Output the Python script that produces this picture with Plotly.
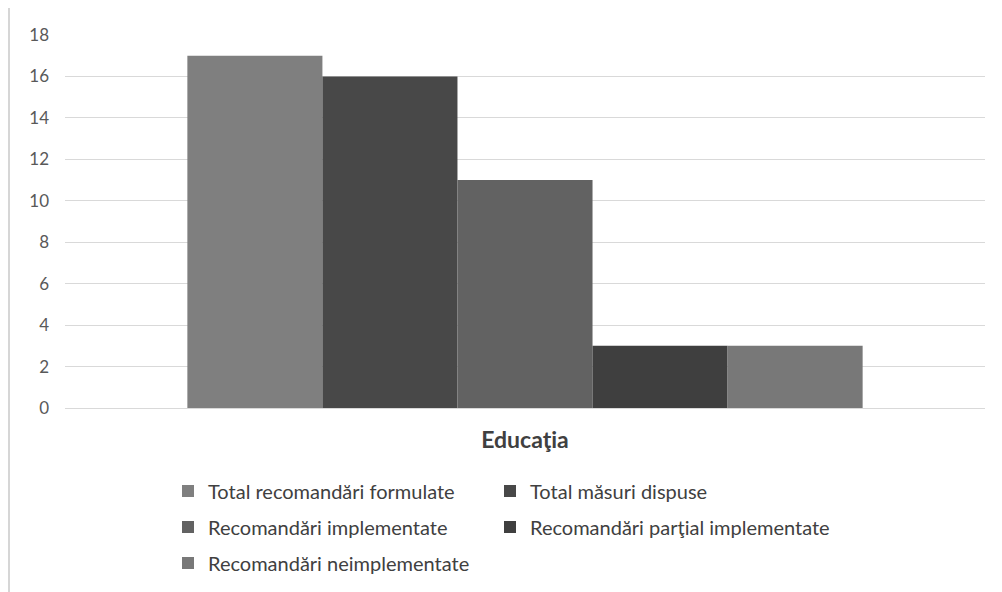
import plotly.graph_objects as go

categories = ["Educaţia"]
series_names = [
    "Total recomandări formulate",
    "Total măsuri dispuse",
    "Recomandări implementate",
    "Recomandări parţial implementate",
    "Recomandări neimplementate",
]
series_values = [17, 16, 11, 3, 3]
series_colors = ["#7f7f7f", "#484848", "#626262", "#3f3f3f", "#787878"]
y_ticks = [0, 2, 4, 6, 8, 10, 12, 14, 16, 18]

# page offset (browser body margin)
OFF = 8
W, H = 1002, 592
# plot area in page pixels: x 65..985, y 35..408
PL, PR, PT, PB = 65, 985, 35, 408
ML = PL - OFF
MT = PT - OFF
MR = W - (PR - OFF)
MB = H - (PB - OFF)
PW, PH = PR - PL, PB - PT

def px_x(p):
    return (p - PL) / PW

def px_y(p):
    return (PB - p) / PH

# legend slots (page px): item start x, row centre y
legend_ids = ["legend", "legend2", "legend3", "legend4", "legend5"]
legend_x = [168, 490, 168, 490, 168]
legend_y = [491, 491, 527, 527, 563]

fig = go.Figure()
for name, val, col, lg in zip(series_names, series_values, series_colors, legend_ids):
    fig.add_trace(go.Bar(
        x=categories, y=[val], name=name,
        marker=dict(color=col, line=dict(width=0)),
        legend=lg,
    ))

legend_layout = {}
for lg, lx, ly in zip(legend_ids, legend_x, legend_y):
    legend_layout[lg] = dict(
        orientation="h", x=px_x(lx), xanchor="left", y=px_y(ly), yanchor="middle",
        font=dict(family="Lato", size=20, color="#404040"),
        bgcolor="rgba(0,0,0,0)", borderwidth=0,
    )

fig.update_layout(
    width=W, height=H,
    margin=dict(l=ML, r=MR, t=MT, b=MB, autoexpand=False),
    paper_bgcolor="white", plot_bgcolor="white",
    barmode="group", bargap=0.266, bargroupgap=0,
    showlegend=True,
    xaxis=dict(
        type="category", showgrid=False, showline=False, zeroline=False,
        ticks="", ticklabelstandoff=16,
        tickfont=dict(family="Lato", size=23, color="#404040", weight="bold"),
    ),
    yaxis=dict(
        range=[0, 18], tickvals=y_ticks, showline=False,
        gridcolor="#d9d9d9", gridwidth=1,
        zeroline=True, zerolinecolor="#d9d9d9", zerolinewidth=1,
        ticks="", ticklabelstandoff=15,
        tickfont=dict(family="Lato", size=17, color="#595959"),
    ),
    shapes=[dict(
        type="line", xref="paper", yref="paper",
        x0=px_x(9), x1=px_x(9), y0=px_y(592), y1=px_y(0),
        line=dict(color="#d6d6d6", width=2),
    )],
    **legend_layout,
)

fig.write_html("out.html")
